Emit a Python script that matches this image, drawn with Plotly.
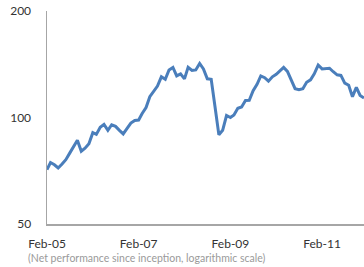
import plotly.graph_objects as go
import pandas as pd

# Monthly net performance index (Feb-05 .. Jan-12)
months = pd.date_range("2005-02-01", periods=84, freq="MS")
values = [
    71.2, 74.6, 73.5, 72.0, 73.9, 76.0, 79.3, 83.1, 86.2, 80.3, 81.9, 84.3,
    90.6, 89.6, 93.8, 95.6, 92.0, 95.4, 94.4, 92.0, 89.9, 93.2, 96.4, 98.1,
    98.4, 102.6, 106.7, 114.5, 118.6, 122.7, 130.3, 128.2, 136.3, 138.5, 131.1, 132.8,
    128.6, 138.7, 135.8, 136.3, 142.1, 137.2, 128.6, 128.2, 107.4, 89.3, 92.0, 101.3,
    100.0, 101.6, 106.2, 107.1, 111.7, 111.9, 119.0, 124.1, 131.1, 129.6, 126.7, 130.3,
    132.4, 135.4, 138.5, 135.0, 127.4, 120.6, 119.8, 120.6, 125.7, 127.8, 132.8, 140.7,
    137.2, 137.4, 137.8, 134.7, 132.0, 131.5, 125.1, 123.3, 114.5, 121.7, 115.4, 113.5,
]
x_tick_vals = ["2005-02-01", "2007-02-01", "2009-02-01", "2011-02-01"]
x_tick_text = ["Feb-05", "Feb-07", "Feb-09", "Feb-11"]
y_tick_vals = [50, 100, 200]
caption = "(Net performance since inception, logarithmic scale)"

fig = go.Figure()
fig.add_trace(go.Scatter(
    x=months, y=values, mode="lines",
    line=dict(color="#4a7ebb", width=3),
    hoverinfo="skip",
))

fig.update_layout(
    width=364, height=267,
    margin=dict(l=47, r=0, t=11, b=43),
    paper_bgcolor="white", plot_bgcolor="white",
    showlegend=False,
    font=dict(family="Lato, 'Open Sans', sans-serif", color="#333333", size=12),
    xaxis=dict(
        range=["2005-02-01", "2012-01-01"],
        tickvals=x_tick_vals, ticktext=x_tick_text,
        showgrid=False, zeroline=False, automargin=False,
        showline=True, linecolor="#a6a6a6", linewidth=1.5,
        ticks="", ticklabelstandoff=8,
        tickfont=dict(size=12, color="#333333"),
    ),
    yaxis=dict(
        type="log",
        range=[1.69897, 2.30103],
        tickvals=y_tick_vals, ticktext=[str(v) for v in y_tick_vals],
        showgrid=False, zeroline=False, automargin=False,
        showline=True, linecolor="#a6a6a6", linewidth=1.5,
        ticks="", ticklabelstandoff=12,
        tickfont=dict(size=12, color="#333333"),
    ),
    annotations=[dict(
        text=caption, xref="paper", yref="paper",
        x=(26 - 47) / 317, y=-34 / 213, xanchor="left", yanchor="middle",
        showarrow=False, font=dict(size=10.5, color="#9a9a9a"),
    )],
)

fig.write_html(
    "out.html",
    config={"displayModeBar": False, "staticPlot": True},
    post_script="document.body.style.margin='0';document.body.style.overflow='hidden';",
)
